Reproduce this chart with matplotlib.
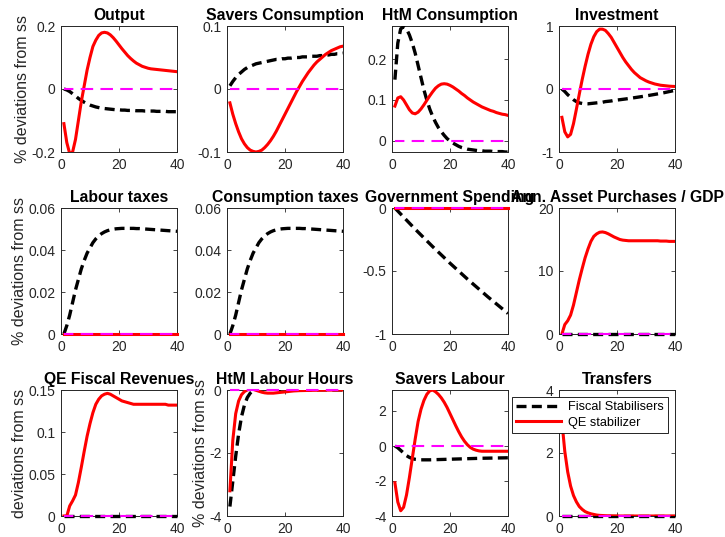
import matplotlib
matplotlib.use("Agg")
import matplotlib.pyplot as plt
from matplotlib.ticker import FuncFormatter

plt.rcParams['font.family'] = ['Liberation Sans', 'DejaVu Sans']

periods = list(range(1, 41))

titles = ["Output", "Savers Consumption", "HtM Consumption", "Investment",
          "Labour taxes", "Consumption taxes", "Government Spending",
          "Ann. Asset Purchases / GDP",
          "QE Fiscal Revenues", "HtM Labour Hours", "Savers Labour", "Transfers"]

# Fiscal Stabilisers (black dashed)
fiscal_output = [0.0, -0.003, -0.008, -0.015, -0.022, -0.03, -0.036, -0.042, -0.047, -0.051,
                 -0.054, -0.057, -0.059, -0.061, -0.062, -0.063, -0.064, -0.065, -0.066, -0.066,
                 -0.067, -0.067, -0.068, -0.068, -0.068, -0.069, -0.069, -0.069, -0.07, -0.07,
                 -0.07, -0.07, -0.071, -0.071, -0.071, -0.071, -0.072, -0.072, -0.072, -0.072]
fiscal_savers_c = [0.005, 0.012, 0.018, 0.023, 0.027, 0.031, 0.034, 0.036, 0.038, 0.04,
                   0.041, 0.042, 0.043, 0.044, 0.045, 0.046, 0.047, 0.047, 0.048, 0.048,
                   0.049, 0.049, 0.05, 0.05, 0.05, 0.051, 0.051, 0.051, 0.052, 0.052,
                   0.052, 0.053, 0.053, 0.054, 0.054, 0.055, 0.055, 0.056, 0.056, 0.057]
fiscal_htm_c = [0.15, 0.24, 0.275, 0.28, 0.275, 0.26, 0.24, 0.215, 0.185, 0.155,
                0.125, 0.1, 0.078, 0.06, 0.045, 0.032, 0.022, 0.013, 0.005, -0.001,
                -0.006, -0.01, -0.014, -0.017, -0.019, -0.021, -0.022, -0.023, -0.024, -0.025,
                -0.025, -0.026, -0.026, -0.026, -0.027, -0.027, -0.027, -0.027, -0.028, -0.028]
fiscal_investment = [0.0, -0.04, -0.09, -0.13, -0.17, -0.2, -0.22, -0.23, -0.235, -0.235,
                     -0.23, -0.225, -0.22, -0.215, -0.21, -0.2, -0.195, -0.19, -0.18, -0.175,
                     -0.17, -0.164, -0.158, -0.151, -0.145, -0.138, -0.131, -0.124, -0.117, -0.11,
                     -0.102, -0.094, -0.086, -0.078, -0.07, -0.061, -0.051, -0.041, -0.031, -0.02]
fiscal_labour_tax = [0.0, 0.004, 0.009, 0.015, 0.021, 0.026, 0.031, 0.035, 0.0385, 0.041,
                     0.0435, 0.0453, 0.0467, 0.0478, 0.0486, 0.0492, 0.0496, 0.0499, 0.0501, 0.0502,
                     0.0503, 0.0503, 0.0503, 0.0503, 0.0503, 0.0502, 0.0502, 0.0501, 0.05, 0.0499,
                     0.0498, 0.0497, 0.0496, 0.0495, 0.0494, 0.0493, 0.0492, 0.0491, 0.049, 0.0489]
fiscal_cons_tax = [0.0, 0.004, 0.009, 0.015, 0.021, 0.026, 0.031, 0.035, 0.0385, 0.041,
                   0.0435, 0.0453, 0.0467, 0.0478, 0.0486, 0.0492, 0.0496, 0.0499, 0.0501, 0.0502,
                   0.0503, 0.0503, 0.0503, 0.0503, 0.0503, 0.0502, 0.0502, 0.0501, 0.05, 0.0499,
                   0.0498, 0.0497, 0.0496, 0.0495, 0.0494, 0.0493, 0.0492, 0.0491, 0.049, 0.0489]
fiscal_gov = [0.0, -0.024, -0.048, -0.072, -0.096, -0.12, -0.144, -0.168, -0.191, -0.214,
              -0.237, -0.26, -0.283, -0.306, -0.328, -0.35, -0.372, -0.394, -0.416, -0.438,
              -0.459, -0.48, -0.501, -0.522, -0.543, -0.564, -0.584, -0.604, -0.624, -0.644,
              -0.664, -0.684, -0.704, -0.723, -0.742, -0.761, -0.78, -0.799, -0.818, -0.837]
fiscal_asset = [0.0] * 40
fiscal_qe_rev = [0.0] * 40
fiscal_htm_hours = [-3.7, -2.9, -2.1, -1.4, -0.85, -0.48, -0.24, -0.1, -0.02, 0.02,
                    0.04, 0.05, 0.05, 0.05, 0.045, 0.04, 0.035, 0.03, 0.025, 0.02,
                    0.018, 0.016, 0.014, 0.012, 0.011, 0.01, 0.009, 0.008, 0.007, 0.006,
                    0.005, 0.005, 0.004, 0.004, 0.003, 0.003, 0.002, 0.002, 0.001, 0.0]
fiscal_savers_l = [0.0, -0.1, -0.25, -0.4, -0.55, -0.65, -0.72, -0.76, -0.78, -0.79,
                   -0.79, -0.79, -0.79, -0.785, -0.78, -0.775, -0.77, -0.765, -0.76, -0.755,
                   -0.75, -0.745, -0.74, -0.735, -0.73, -0.725, -0.72, -0.715, -0.71, -0.705,
                   -0.7, -0.697, -0.694, -0.691, -0.688, -0.685, -0.682, -0.679, -0.676, -0.673]
fiscal_transfers = [0.0] * 40

# QE stabilizer (red solid)
qe_output = [-0.11, -0.17, -0.205, -0.2, -0.16, -0.1, -0.04, 0.01, 0.06, 0.1,
             0.135, 0.155, 0.17, 0.178, 0.18, 0.178, 0.172, 0.163, 0.152, 0.14,
             0.128, 0.117, 0.106, 0.097, 0.089, 0.082, 0.077, 0.072, 0.069, 0.066,
             0.064, 0.063, 0.062, 0.061, 0.06, 0.059, 0.058, 0.057, 0.056, 0.055]
qe_savers_c = [-0.022, -0.04, -0.055, -0.068, -0.079, -0.087, -0.093, -0.097, -0.099, -0.1,
               -0.099, -0.097, -0.093, -0.088, -0.082, -0.075, -0.067, -0.058, -0.049, -0.04,
               -0.031, -0.022, -0.013, -0.004, 0.004, 0.012, 0.019, 0.026, 0.032, 0.038,
               0.043, 0.047, 0.051, 0.055, 0.058, 0.061, 0.063, 0.065, 0.067, 0.068]
qe_htm_c = [0.085, 0.105, 0.108, 0.1, 0.088, 0.076, 0.068, 0.066, 0.07, 0.078,
            0.088, 0.099, 0.11, 0.12, 0.129, 0.135, 0.139, 0.14, 0.139, 0.136,
            0.132, 0.127, 0.122, 0.116, 0.111, 0.105, 0.1, 0.095, 0.091, 0.087,
            0.083, 0.08, 0.077, 0.074, 0.072, 0.069, 0.067, 0.065, 0.064, 0.062]
qe_investment = [-0.45, -0.68, -0.76, -0.72, -0.55, -0.32, -0.08, 0.15, 0.36, 0.55,
                 0.71, 0.83, 0.91, 0.95, 0.95, 0.93, 0.88, 0.82, 0.74, 0.66,
                 0.58, 0.5, 0.43, 0.37, 0.31, 0.26, 0.22, 0.18, 0.155, 0.13,
                 0.11, 0.095, 0.08, 0.07, 0.06, 0.055, 0.05, 0.045, 0.042, 0.04]
qe_labour_tax = [0.0] * 40
qe_cons_tax = [0.0] * 40
qe_gov = [0.0] * 40
qe_asset = [0.0, 1.5, 2.1, 3.0, 4.6, 6.6, 8.6, 10.4, 12.1, 13.5,
            14.7, 15.5, 15.9, 16.15, 16.2, 16.1, 15.9, 15.65, 15.4, 15.2,
            15.0, 14.9, 14.85, 14.8, 14.8, 14.8, 14.8, 14.8, 14.8, 14.8,
            14.8, 14.8, 14.8, 14.8, 14.75, 14.75, 14.75, 14.7, 14.7, 14.7]
qe_qe_rev = [0.0, 0.0, 0.012, 0.018, 0.025, 0.04, 0.058, 0.077, 0.095, 0.11,
             0.123, 0.133, 0.139, 0.143, 0.145, 0.146, 0.145, 0.143, 0.141, 0.139,
             0.137, 0.136, 0.135, 0.134, 0.133, 0.133, 0.133, 0.133, 0.133, 0.133,
             0.133, 0.133, 0.133, 0.133, 0.133, 0.133, 0.132, 0.132, 0.132, 0.132]
qe_htm_hours = [-3.2, -1.6, -0.75, -0.35, -0.15, -0.05, 0.0, 0.03, 0.02, -0.01,
                -0.04, -0.07, -0.09, -0.1, -0.1, -0.1, -0.09, -0.08, -0.07, -0.06,
                -0.05, -0.04, -0.03, -0.025, -0.02, -0.018, -0.016, -0.014, -0.012, -0.01,
                -0.009, -0.008, -0.007, -0.006, -0.005, -0.004, -0.003, -0.002, -0.001, 0.0]
qe_savers_l = [-2.1, -3.2, -3.7, -3.5, -2.8, -1.8, -0.7, 0.4, 1.4, 2.1,
               2.6, 2.95, 3.15, 3.2, 3.1, 2.95, 2.75, 2.5, 2.2, 1.85,
               1.5, 1.15, 0.82, 0.52, 0.27, 0.07, -0.08, -0.18, -0.24, -0.28,
               -0.3, -0.3, -0.3, -0.3, -0.3, -0.3, -0.3, -0.3, -0.3, -0.3]
qe_transfers = [3.0, 2.05, 1.4, 0.95, 0.65, 0.45, 0.3, 0.21, 0.14, 0.1,
                0.07, 0.05, 0.03, 0.02, 0.015, 0.01, 0.007, 0.005, 0.003, 0.002,
                0.0, 0.0, 0.0, 0.0, 0.0, 0.0, 0.0, 0.0, 0.0, 0.0,
                0.0, 0.0, 0.0, 0.0, 0.0, 0.0, 0.0, 0.0, 0.0, 0.0]

fiscal = [fiscal_output, fiscal_savers_c, fiscal_htm_c, fiscal_investment,
          fiscal_labour_tax, fiscal_cons_tax, fiscal_gov, fiscal_asset,
          fiscal_qe_rev, fiscal_htm_hours, fiscal_savers_l, fiscal_transfers]
qe = [qe_output, qe_savers_c, qe_htm_c, qe_investment,
      qe_labour_tax, qe_cons_tax, qe_gov, qe_asset,
      qe_qe_rev, qe_htm_hours, qe_savers_l, qe_transfers]

ylims = [(-0.2, 0.2), (-0.1, 0.1), (-0.028, 0.282), (-1, 1),
         (0, 0.06), (0, 0.06), (-1, 0), (0, 20),
         (0, 0.15), (-4, 0), (-4, 3.2), (0, 4)]
yticks = [[-0.2, 0, 0.2], [-0.1, 0, 0.1], [0, 0.1, 0.2], [-1, 0, 1],
          [0, 0.02, 0.04, 0.06], [0, 0.02, 0.04, 0.06], [-1, -0.5, 0], [0, 10, 20],
          [0, 0.05, 0.1, 0.15], [-4, -2, 0], [-4, -2, 0, 2], [0, 2, 4]]
ylabels = {0: "% deviations from ss", 4: "% deviations from ss",
           8: "deviations from ss", 9: "% deviations from ss"}

W, H = 725, 537
fig = plt.figure(figsize=(W / 100, H / 100), dpi=100)
col_left = [61, 227, 392, 559]
row_top = [26, 208, 390]
ax_w, ax_h = 116, 126

edge = (0.15, 0.15, 0.15)
for i in range(12):
    r, c = divmod(i, 4)
    ax = fig.add_axes([col_left[c] / W, 1 - (row_top[r] + ax_h) / H, ax_w / W, ax_h / H])
    flat_f = all(v == 0 for v in fiscal[i])
    flat_q = all(v == 0 for v in qe[i])
    l1, = ax.plot(periods, fiscal[i], color='black', lw=2.4, linestyle=(0, (3, 1.6)),
                  clip_on=not flat_f, zorder=3)
    l2, = ax.plot(periods, qe[i], color='red', lw=2.2, clip_on=not flat_q, zorder=3.1)
    ax.plot(periods, [0] * 40, color='magenta', lw=1.5, linestyle=(1.5, (6, 3.5)),
            clip_on=False, zorder=3.2)
    ax.set_xlim(0, 40)
    ax.set_ylim(*ylims[i])
    ax.set_xticks([0, 20, 40])
    ax.set_yticks(yticks[i])
    ax.yaxis.set_major_formatter(FuncFormatter(lambda v, p: "%g" % v))
    ax.tick_params(direction='in', length=3, width=0.6, top=True, right=True,
                   labelsize=10, colors=edge, labelcolor=edge, pad=4)
    for s in ax.spines.values():
        s.set_color(edge)
        s.set_linewidth(0.7)
    ax.set_title(titles[i], fontsize=11.3, fontweight='bold', pad=4)
    if i in ylabels:
        ax.set_ylabel(ylabels[i], fontsize=11.5, color=edge, labelpad=1)
    if i == 11:
        leg = ax.legend([l1, l2], ["Fiscal Stabilisers", "QE stabilizer"],
                        loc='upper left', bbox_to_anchor=(512 / W, 1 - 397 / H),
                        bbox_transform=fig.transFigure, fontsize=9.2,
                        frameon=True, fancybox=False, framealpha=1,
                        handlelength=3.5, borderpad=0.35, labelspacing=0.25,
                        borderaxespad=0, handletextpad=0.5)
        leg.get_frame().set_edgecolor('black')
        leg.get_frame().set_linewidth(0.6)
        leg.set_zorder(5)

fig.savefig("out.png", dpi=100)
